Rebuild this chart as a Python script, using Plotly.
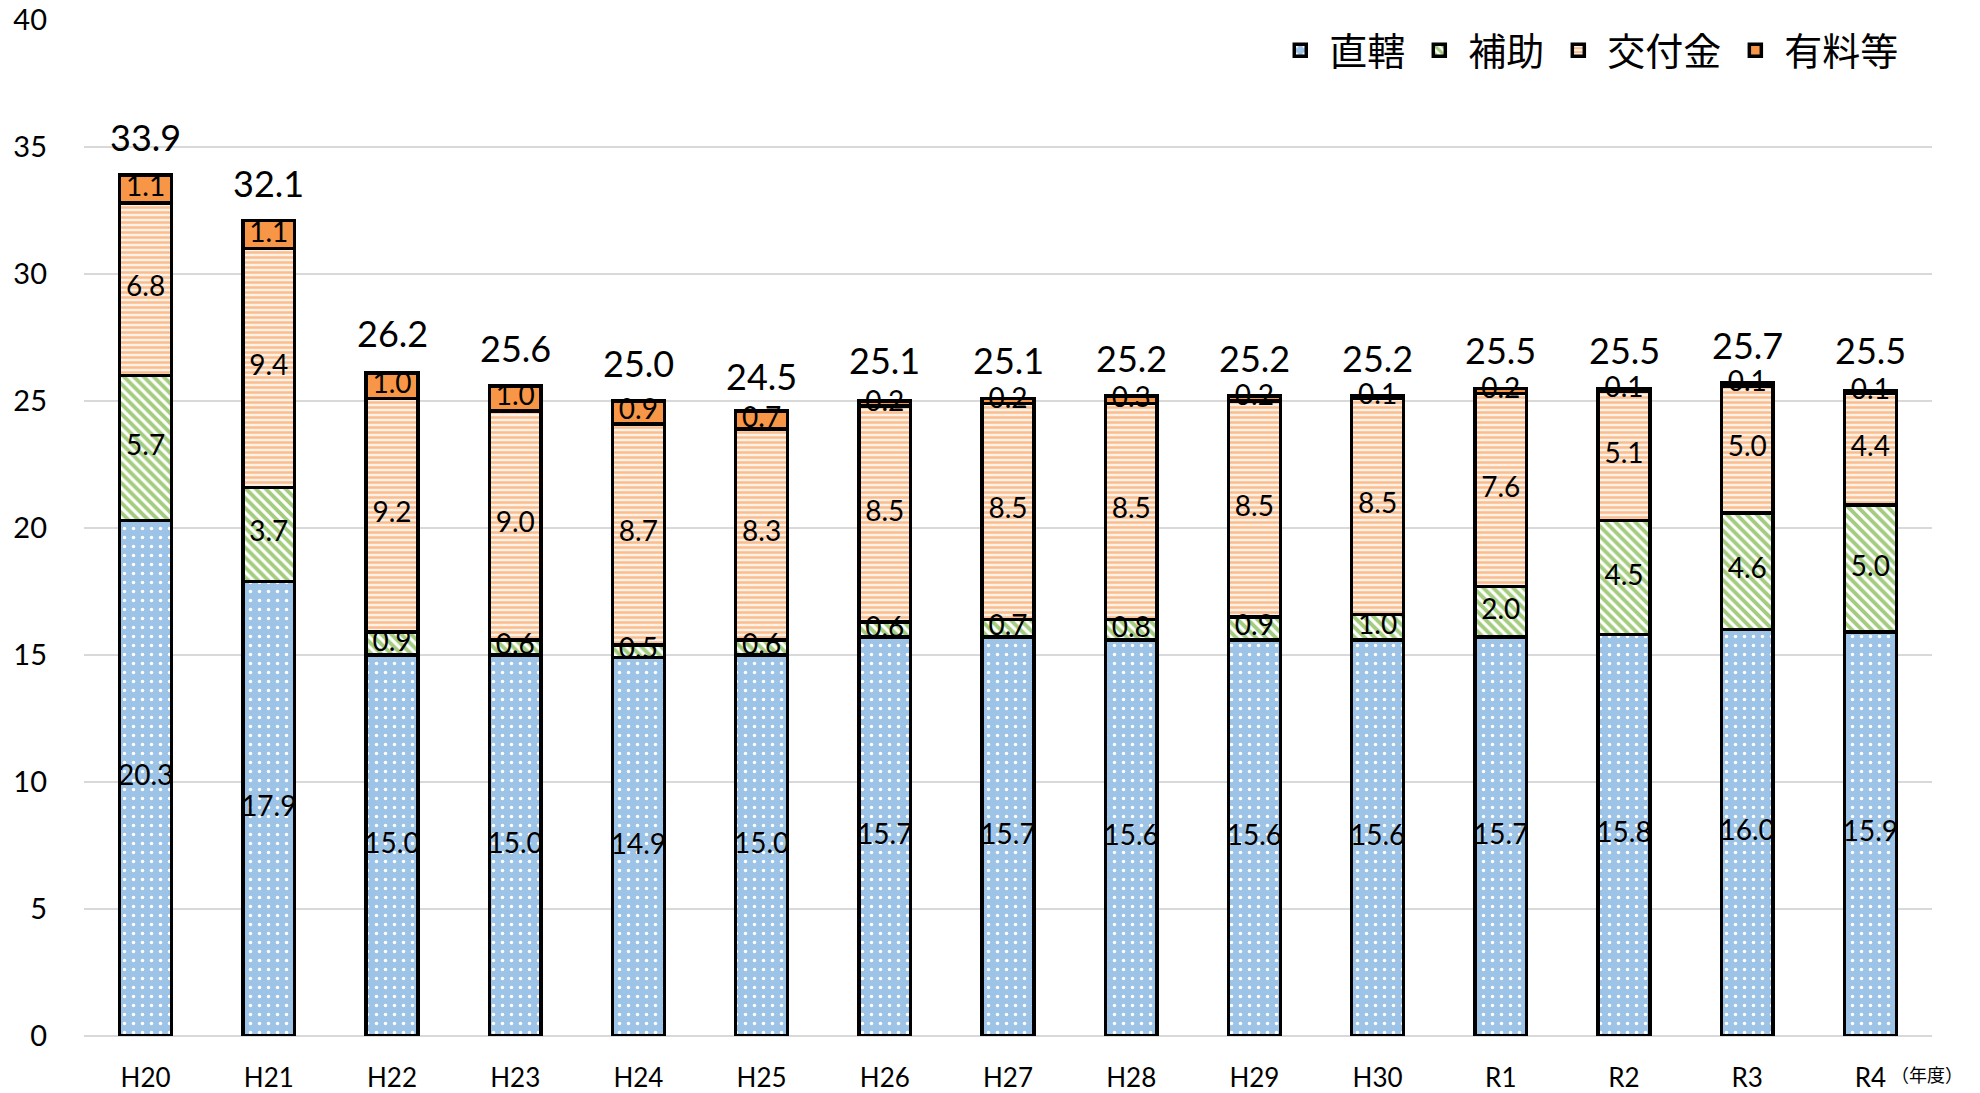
import numpy as np
import plotly.graph_objects as go

years = ["H20", "H21", "H22", "H23", "H24", "H25", "H26", "H27", "H28", "H29",
         "H30", "R1", "R2", "R3", "R4"]
chokkatsu = [20.3, 17.9, 15.0, 15.0, 14.9, 15.0, 15.7, 15.7, 15.6, 15.6, 15.6, 15.7, 15.8, 16.0, 15.9]
hojo = [5.7, 3.7, 0.9, 0.6, 0.5, 0.6, 0.6, 0.7, 0.8, 0.9, 1.0, 2.0, 4.5, 4.6, 5.0]
kofukin = [6.8, 9.4, 9.2, 9.0, 8.7, 8.3, 8.5, 8.5, 8.5, 8.5, 8.5, 7.6, 5.1, 5.0, 4.4]
yuryo = [1.1, 1.1, 1.0, 1.0, 0.9, 0.7, 0.2, 0.2, 0.3, 0.2, 0.1, 0.2, 0.1, 0.1, 0.1]
totals = [33.9, 32.1, 26.2, 25.6, 25.0, 24.5, 25.1, 25.1, 25.2, 25.2, 25.2, 25.5, 25.5, 25.7, 25.5]

y_ticks = [0, 5, 10, 15, 20, 25, 30, 35, 40]

NUM_FONT = "Lato, 'Noto Sans', sans-serif"
CJK_FONT = "'Noto Sans CJK JP', sans-serif"

series = [
    dict(name="直轄", values=chokkatsu,
         pattern=dict(shape=".", bgcolor="#9DC3E6", fgcolor="#FFFFFF", size=9, solidity=0.12)),
    dict(name="補助", values=hojo,
         pattern=dict(shape="\\", bgcolor="#FFFFFF", fgcolor="#A3CC7E", size=7, solidity=0.55)),
    dict(name="交付金", values=kofukin,
         pattern=dict(shape="-", bgcolor="#FFF1E6", fgcolor="#F9BD8E", size=5, solidity=0.5)),
    dict(name="有料等", values=yuryo,
         pattern=dict(shape="", bgcolor="#F79646", fgcolor="#F79646")),
]

fig = go.Figure()

for s in series:
    marker = dict(color=s["pattern"]["bgcolor"], line=dict(color="#000000", width=3.5))
    if s["pattern"]["shape"]:
        marker["pattern"] = dict(fillmode="replace", **s["pattern"])
    fig.add_trace(go.Bar(
        x=years, y=s["values"], name=s["name"], marker=marker,
        hoverinfo="skip",
    ))

# segment value labels, centred in each stacked segment and drawn above all bars
base = np.zeros(len(years))
for s in series:
    vals = np.array(s["values"])
    fig.add_trace(go.Scatter(
        x=years, y=base + vals / 2, mode="text",
        text=[f"{v:.1f}" for v in vals], textposition="middle center",
        textfont=dict(family=NUM_FONT, size=28, color="#000000"),
        showlegend=False, hoverinfo="skip", cliponaxis=False,
    ))
    base = base + vals

# totals above each bar
for yr, tot in zip(years, totals):
    fig.add_annotation(
        x=yr, y=tot, text=f"{tot:.1f}", showarrow=False,
        yanchor="bottom", yshift=14,
        font=dict(family=NUM_FONT, size=36, color="#000000"),
    )

fig.add_annotation(
    xref="paper", yref="paper", x=0.9765, y=-0.037, xanchor="left", yanchor="middle",
    text="（年度）", showarrow=False,
    font=dict(family=CJK_FONT, size=18, color="#000000"),
)

fig.update_layout(
    width=1980, height=1093,
    barmode="stack", bargap=0.58,
    plot_bgcolor="#FFFFFF", paper_bgcolor="#FFFFFF",
    margin=dict(l=84, r=48, t=20, b=57, autoexpand=False),
    showlegend=True,
    legend=dict(
        orientation="h", x=0.985, xanchor="right", y=1.001, yanchor="top",
        traceorder="normal", font=dict(family=CJK_FONT, size=38, color="#000000"),
        bgcolor="rgba(0,0,0,0)", itemwidth=48,
    ),
    xaxis=dict(
        type="category", range=[-0.5, len(years) - 0.5], automargin=False,
        showgrid=False, showline=False, ticks="",
        tickfont=dict(family=NUM_FONT, size=26, color="#000000"),
        ticklabelstandoff=24,
    ),
    yaxis=dict(
        range=[0, 40], tickvals=y_ticks, automargin=False,
        showgrid=True, gridcolor="#D9D9D9", gridwidth=2,
        zeroline=True, zerolinecolor="#D9D9D9", zerolinewidth=2, showline=False, ticks="",
        tickfont=dict(family=NUM_FONT, size=29, color="#000000"),
        ticklabelstandoff=36,
    ),
)

fig.write_html("out.html")
